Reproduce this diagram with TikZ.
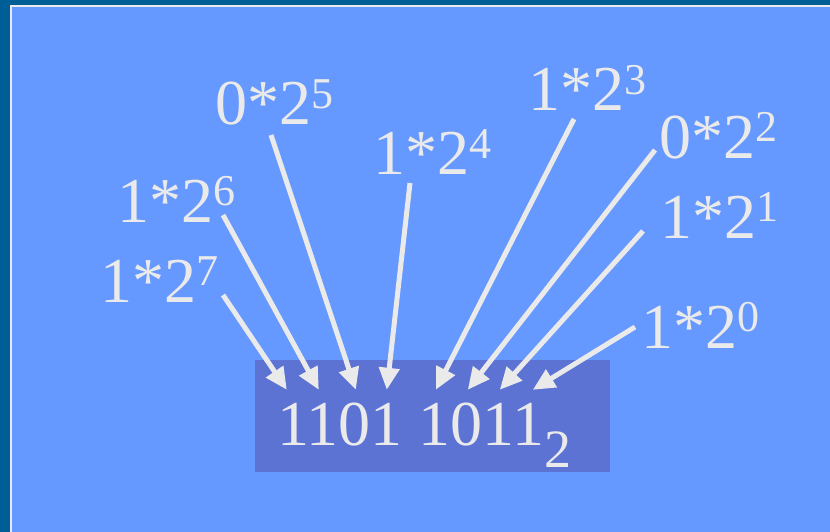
\documentclass[tikz,border=0pt]{standalone}
\usepackage{fontspec}
\setmainfont{Liberation Serif}
\usetikzlibrary{arrows.meta,positioning,backgrounds}
\definecolor{frameblue}{RGB}{0,94,150}
\definecolor{slideblue}{RGB}{102,153,255}
\definecolor{boxblue}{RGB}{93,115,212}
\definecolor{chalk}{RGB}{234,234,234}
\tikzset{%
      term/.style={anchor=base west, inner sep=0pt, text=chalk, font=\fontsize{64}{77}\selectfont},
      numbox/.style={fill=boxblue, minimum width=355pt, minimum height=112pt, inner sep=0pt},
      line/.style={draw, line width=5pt, color=chalk, -{Triangle[length=22pt,width=20pt]}},
    }
\newcommand{\pw}[2]{#1*2\raisebox{17pt}{\fontsize{44}{44}\selectfont #2}}
\newcommand{\term}[3]{node (t#1) [term] at #2 {\pw{#3}{#1}}}

\begin{document}
\begin{tikzpicture}[x=1pt, y=-1pt]

      % Draw slide background
      \useasboundingbox (0,0) rectangle (830,532);
      \fill [frameblue] (0,0) rectangle (834,536);
      \fill [chalk] (9.5,5) rectangle (834,536);
      \fill [slideblue] (12,7.5) rectangle (834,536);

      % Draw diagram elements
      \node (box) [numbox] at (432.5,416) {};
      \node (num) [term] at (277,445) {1101 1011\raisebox{-22pt}{\fontsize{54}{54}\selectfont 2}};

      \path \term{7}{(100,302)}{1};
      \path \term{6}{(117,222)}{1};
      \path \term{5}{(215,125)}{0};
      \path \term{4}{(373,175)}{1};
      \path \term{3}{(528,111)}{1};
      \path \term{2}{(659,158)}{0};
      \path \term{1}{(660,238)}{1};
      \path \term{0}{(641,348)}{1};

      % Tails of the arrows
      \path (t7.base west)+(123,-7) coordinate (s7);
      \path (t6.base west)+(106,-7) coordinate (s6);
      \path (t5.base west)+(56,10) coordinate (s5);
      \path (t4.base west)+(37,8) coordinate (s4);
      \path (t3.base west)+(46,8) coordinate (s3);
      \path (t2.base west)+(-4,-8) coordinate (s2);
      \path (t1.base west)+(-17,-7) coordinate (s1);
      \path (t0.base west)+(-6,-21) coordinate (s0);

      % Heads of the arrows, on the digits
      \path (box.north west)+(32,30) coordinate (d7);
      \path (box.north west)+(64,30) coordinate (d6);
      \path (box.north west)+(101,30) coordinate (d5);
      \path (box.north west)+(132,30) coordinate (d4);
      \path (box.north west)+(181,30) coordinate (d3);
      \path (box.north west)+(213,30) coordinate (d2);
      \path (box.north west)+(245,30) coordinate (d1);
      \path (box.north west)+(278,30) coordinate (d0);

      % Draw arrows between elements
      \path [line] (s7) -- (d7);
      \path [line] (s6) -- (d6);
      \path [line] (s5) -- (d5);
      \path [line] (s4) -- (d4);
      \path [line] (s3) -- (d3);
      \path [line] (s2) -- (d2);
      \path [line] (s1) -- (d1);
      \path [line] (s0) -- (d0);

    \end{tikzpicture}
\end{document}
